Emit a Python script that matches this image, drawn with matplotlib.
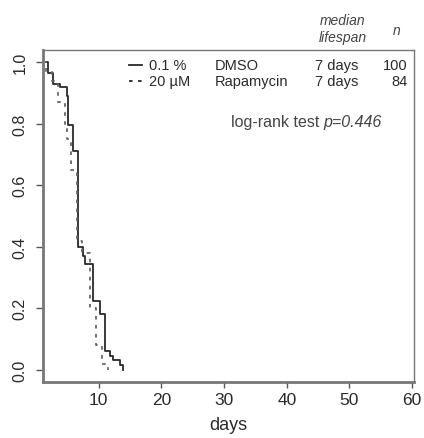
import matplotlib
matplotlib.use("Agg")
import matplotlib.pyplot as plt
from matplotlib.lines import Line2D

plt.rcParams['font.family'] = ['Liberation Sans', 'DejaVu Sans']

# Kaplan-Meier step data (day, survival after the drop)
dmso_days = [1.1, 1.9, 2.7, 3.8, 4.9, 5.1, 5.9, 6.7, 7.5, 7.8, 9.0, 10.2, 11.0, 11.8, 12.3, 13.4, 13.9]
dmso_surv = [1.0, 0.965, 0.93, 0.92, 0.89, 0.795, 0.71, 0.40, 0.37, 0.345, 0.225, 0.18, 0.06, 0.045, 0.03, 0.015, 0.0]
rapa_days = [1.1, 1.6, 2.5, 3.5, 4.6, 5.0, 5.6, 6.5, 7.3, 8.6, 9.6, 10.5, 11.5]
rapa_surv = [1.0, 0.97, 0.94, 0.87, 0.80, 0.75, 0.65, 0.42, 0.38, 0.20, 0.08, 0.02, 0.0]

groups = ["0.1 %", "20 \u00b5M"]
treatments = ["DMSO", "Rapamycin"]
medians = ["7 days", "7 days"]
ns = ["100", "84"]
pval = "0.446"

xticks = [10, 20, 30, 40, 50, 60]
yticks = [0.0, 0.2, 0.4, 0.6, 0.8, 1.0]

W, H = 424, 439
fig = plt.figure(figsize=(W / 100, H / 100), dpi=100)
ax = fig.add_axes([43 / W, 1 - 383 / H, (414 - 43) / W, (383 - 51) / H])

ink = "#2a2a2a"
ax.step(dmso_days, dmso_surv, where="post", color=ink, lw=1.3)
ax.step(rapa_days, rapa_surv, where="post", color="#666666", lw=1.3, ls=(0, (2, 3)))

ax.set_xlim(1.1, 60.3)
ax.set_ylim(-0.04, 1.04)
ax.set_xticks(xticks)
ax.set_yticks(yticks)
ax.set_yticklabels(["%.1f" % v for v in yticks], rotation=90, va="center")
ax.tick_params(direction="out", length=4, width=1, colors="#555555", labelcolor=ink)
ax.tick_params(axis="x", labelsize=12.5, pad=3)
ax.tick_params(axis="y", labelsize=11.5, pad=6, length=5)
for s in ["left", "bottom"]:
    ax.spines[s].set_linewidth(2.0)
    ax.spines[s].set_color("#777777")
for s in ["top", "right"]:
    ax.spines[s].set_linewidth(1.0)
    ax.spines[s].set_color("#777777")
ax.set_xlabel("days", fontsize=13, color=ink, labelpad=7)


def fx(px):
    return px / W


def fy(py):
    return 1 - py / H


fs = 10.5
hdr = "#444444"
fig.text(fx(343), fy(21), "median", style="italic", fontsize=10, color=hdr, ha="center", va="center")
fig.text(fx(343), fy(38), "lifespan", style="italic", fontsize=10, color=hdr, ha="center", va="center")
fig.text(fx(397), fy(31), "n", style="italic", fontsize=10, color=hdr, ha="center", va="center")

styles = ["-", (0, (2, 3))]
for i in range(2):
    y = 66 + i * 16
    fig.add_artist(Line2D([fx(129), fx(142)], [fy(y), fy(y)], color=ink, lw=1.3, ls=styles[i]))
    fig.text(fx(149), fy(y), groups[i], fontsize=fs, color=ink, ha="left", va="center")
    fig.text(fx(215), fy(y), treatments[i], fontsize=fs, color=ink, ha="left", va="center")
    fig.text(fx(315), fy(y), medians[i], fontsize=fs, color=ink, ha="left", va="center")
    fig.text(fx(408), fy(y), ns[i], fontsize=fs, color=ink, ha="right", va="center")

fig.text(fx(319), fy(123), "log-rank test", fontsize=11.5, color=hdr, ha="right", va="center")
fig.text(fx(323), fy(123), "p=" + pval, fontsize=11.5, style="italic", color=hdr, ha="left", va="center")

fig.savefig("out.png", dpi=100)
